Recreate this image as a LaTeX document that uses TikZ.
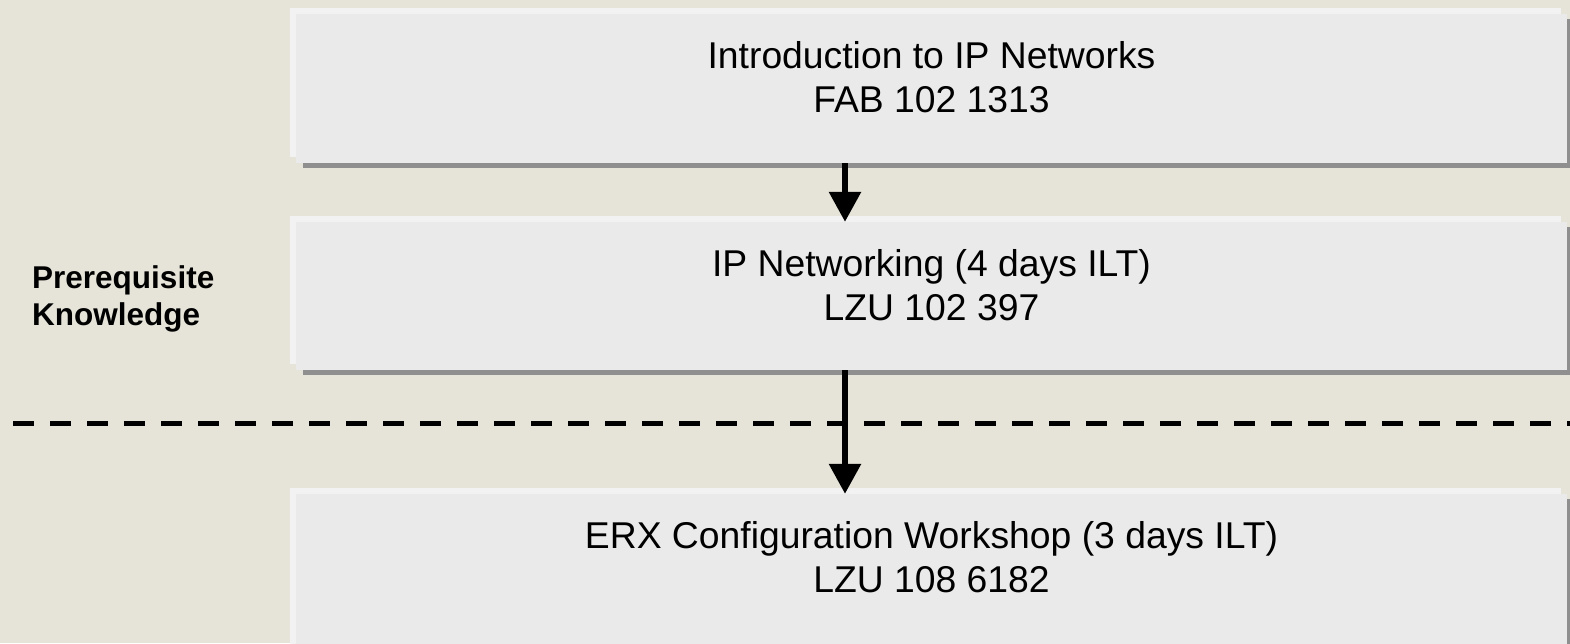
\documentclass[tikz,border=0pt]{standalone}
\usepackage{fontspec}
\setmainfont{Liberation Sans}
\usetikzlibrary{arrows.meta}
\definecolor{bg}{HTML}{E6E4D9}
\definecolor{boxfill}{HTML}{EAEAEA}
\definecolor{hilite}{HTML}{F2F2F2}
\definecolor{shade}{HTML}{8F8F8F}
\begin{document}
\begin{tikzpicture}[x=1pt,y=-1pt,
  box/.style={rectangle, fill=boxfill, inner sep=0pt, minimum width=1271pt,
    preaction={fill=shade, transform canvas={shift={(7pt,-5pt)}}},
    preaction={fill=hilite, transform canvas={shift={(-6pt,6pt)}}}},
  txt/.style={font=\fontsize{37.3}{44}\selectfont, align=center, inner sep=0pt},
  lbl/.style={font=\bfseries\fontsize{31.5}{37}\selectfont, align=left, inner sep=0pt},
  arr/.style={line width=6pt, -{Triangle[width=31pt,length=30pt]}},
  sep/.style={line width=5pt, dash pattern=on 21pt off 16pt}]
\fill[bg] (0,0) rectangle (1570,643);
\useasboundingbox (0,0) rectangle (1570,643);
% boxes
\node[box, minimum height=149pt] (b1) at (931.5,88.5) {};
\node[box, minimum height=148pt] (b2) at (931.5,296) {};
\node[box, minimum height=160pt] (b3) at (931.5,574) {};
% texts
\node[txt] (t1) at (931.5,77.5) {Introduction to IP Networks\\FAB 102 1313};
\node[txt] (t2) at (931.5,285.5) {IP Networking (4 days ILT)\\LZU 102 397};
\node[txt] (t3) at (931.5,557.5) {ERX Configuration Workshop (3 days ILT)\\LZU 108 6182};
\node[lbl, anchor=west] (pk) at (32,298.5) {Prerequisite\\Knowledge};
% separator
\coordinate (dl) at (13,423.5);
\coordinate (dr) at (1570,423.5);
\draw[sep] (dl) -- (dr);
% arrows
\coordinate (ax) at (845,0);
\draw[arr] (b1.south -| ax) -- (b2.north -| ax);
\draw[arr] (b2.south -| ax) -- (b3.north -| ax);
\end{tikzpicture}
\end{document}
